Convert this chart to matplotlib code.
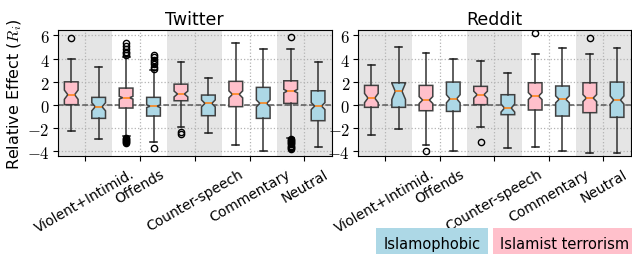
import numpy as np
import matplotlib
matplotlib.use('Agg')
import matplotlib.pyplot as plt

plt.rcParams['mathtext.fontset'] = 'cm'
plt.rcParams['font.family'] = ['DejaVu Sans']

categories = ['Violent+Intimid.', 'Offends', 'Counter-speech', 'Commentary', 'Neutral']

# per category: whisker low, q1, median, q3, whisker high
tw_terror = [(-2.2, 0.03, 0.89, 2.0, 3.96), (-2.64, -0.26, 0.63, 1.46, 4.1),
             (-1.92, 0.37, 0.95, 1.8, 3.73), (-3.44, -0.14, 0.92, 2.04, 5.31),
             (-2.8, 0.14, 1.2, 2.09, 4.85)]
tw_phobic = [(-2.93, -1.15, -0.15, 0.66, 3.24), (-3.15, -0.95, -0.1, 0.66, 3.0),
             (-2.41, -0.92, 0.14, 0.86, 2.29), (-3.96, -1.15, 0.14, 1.52, 4.79),
             (-3.59, -1.35, -0.09, 1.23, 3.73)]
rd_terror = [(-2.61, -0.2, 0.6, 1.69, 3.47), (-3.42, -0.49, 0.43, 1.69, 4.5),
             (-1.87, 0.03, 0.89, 1.61, 3.76), (-3.64, -0.43, 0.77, 1.92, 4.39),
             (-4.1, -0.66, 0.6, 1.92, 4.39)]
rd_phobic = [(-2.04, -0.2, 1.18, 1.92, 4.96), (-3.99, -0.55, 0.54, 1.98, 3.99),
             (-3.7, -0.83, -0.26, 0.89, 2.72), (-3.99, -0.95, 0.49, 1.64, 4.9),
             (-4.16, -1.06, 0.43, 1.98, 4.9)]

# notch half widths (confidence interval around the median)
tw_terror_notch = [0.4, 0.12, 0.25, 0.3, 0.15]
tw_phobic_notch = [0.35, 0.12, 0.3, 0.3, 0.3]
rd_terror_notch = [0.4, 0.3, 0.3, 0.3, 0.3]
rd_phobic_notch = [0.7, 0.35, 0.35, 0.3, 0.35]

# outliers
tw_terror_fliers = [[5.77],
                    [4.3, 4.45, 4.6, 4.82, 5.05, 5.31, -2.8, -2.9, -3.0, -3.1, -3.2, -3.3],
                    [-2.35, -2.5],
                    [],
                    [5.82, -2.9, -3.0, -3.1, -3.2, -3.3, -3.4, -3.5, -3.6, -3.7, -3.8]]
tw_phobic_fliers = [[], [3.1, 3.3, 3.5, 3.7, 3.9, 4.1, 4.3, -3.7], [], [], []]
rd_terror_fliers = [[], [-3.93], [-3.19], [6.17], [5.77]]
rd_phobic_fliers = [[], [], [], [], []]

PINK = 'pink'
BLUE = 'lightblue'


def make_stats(five, notch, fliers):
    stats = []
    for (lo, q1, med, q3, hi), n, fl in zip(five, notch, fliers):
        stats.append(dict(whislo=lo, q1=q1, med=med, q3=q3, whishi=hi,
                          cilo=med - n, cihi=med + n, fliers=fl))
    return stats


def draw_panel(ax, title, terror, phobic):
    x = np.arange(1, len(categories) + 1)
    for i in range(0, len(categories), 2):
        ax.axvspan(x[i] - 0.5, x[i] + 0.5, color='#e5e5e5', zorder=0, lw=0)
    ax.grid(ls=':', color='0.7', lw=0.9, zorder=0.5)
    ax.set_axisbelow(True)
    ax.axhline(0, color='0.35', ls='--', lw=1.1, zorder=1)

    for stats, offs, col in [(terror, -0.25, PINK), (phobic, 0.25, BLUE)]:
        ax.bxp(stats, positions=x + offs, widths=0.25, shownotches=True,
               patch_artist=True, manage_ticks=False,
               boxprops=dict(facecolor=col, edgecolor='0.25', lw=1.1),
               whiskerprops=dict(color='0.2', lw=1.1),
               capprops=dict(color='0.1', lw=1.1),
               medianprops=dict(color='#ff7f0e', lw=1.1),
               flierprops=dict(marker='o', markerfacecolor='none',
                               markeredgecolor='black', markersize=4.5))

    ax.set_xlim(0.5, len(categories) + 0.5)
    ax.set_ylim(-4.4, 6.5)
    ax.set_xticks(x)
    ax.set_xticklabels(categories, rotation=30, ha='center', fontsize=10)
    yt = [-4, -2, 0, 2, 4, 6]
    ax.set_yticks(yt)
    ax.set_yticklabels(['$%d$' % v for v in yt], fontsize=12)
    ax.tick_params(axis='y', length=3.5, pad=2)
    ax.tick_params(axis='x', length=3.5, pad=4)
    ax.set_title(title, fontsize=12.5, pad=4)


fig = plt.figure(figsize=(6.32, 2.55), dpi=100)
ax1 = fig.add_axes([0.091, 0.384, 0.434, 0.496])
ax2 = fig.add_axes([0.566, 0.384, 0.432, 0.496])

draw_panel(ax1, 'Twitter', make_stats(tw_terror, tw_terror_notch, tw_terror_fliers),
           make_stats(tw_phobic, tw_phobic_notch, tw_phobic_fliers))
draw_panel(ax2, 'Reddit', make_stats(rd_terror, rd_terror_notch, rd_terror_fliers),
           make_stats(rd_phobic, rd_phobic_notch, rd_phobic_fliers))
ax1.set_ylabel('Relative Effect ($R_i$)', fontsize=11.5, labelpad=2)

# legend boxes at the bottom right
fig.text(0.684, 0.042, 'Islamophobic', ha='center', va='center', fontsize=10.5,
         bbox=dict(boxstyle='square,pad=0.5', fc=BLUE, ec='none'))
fig.text(0.893, 0.042, 'Islamist terrorism', ha='center', va='center', fontsize=10.5,
         bbox=dict(boxstyle='square,pad=0.5', fc=PINK, ec='none'))

fig.savefig('out.png', dpi=100)
